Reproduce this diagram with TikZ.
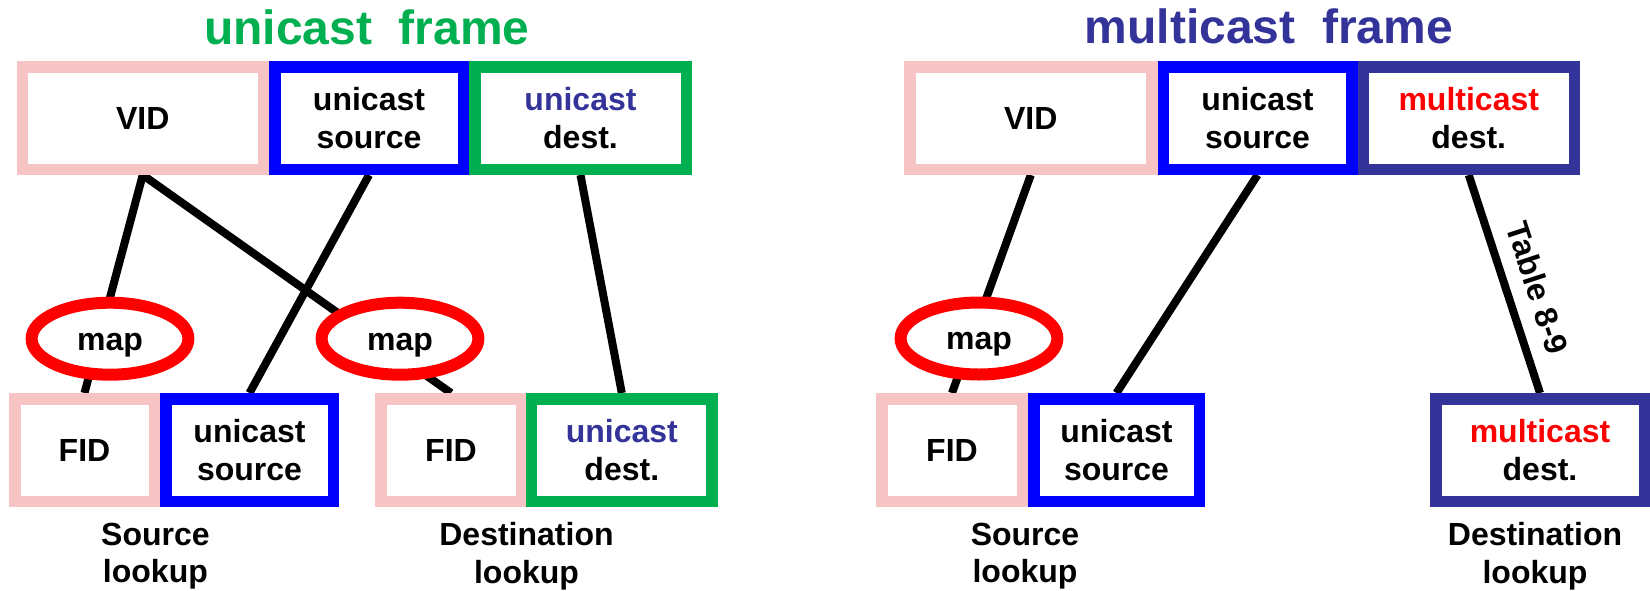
\documentclass[tikz,border=0pt]{standalone}
\usepackage{fontspec}
\setmainfont{Liberation Sans}
\usetikzlibrary{shapes.geometric,backgrounds}
\definecolor{pinkb}{RGB}{246,196,196}
\definecolor{greenb}{RGB}{0,176,80}
\definecolor{navyb}{RGB}{51,51,153}
\definecolor{blueb}{RGB}{0,0,255}
\definecolor{redb}{RGB}{255,0,0}
\begin{document}
\begin{tikzpicture}[x=0.5pt,y=-0.5pt,
  fld/.style={draw, fill=white, line width=5.75pt, inner sep=0pt, minimum height=51.25pt, align=center, font=\fontsize{16}{18.65}\selectfont\bfseries},
  mapell/.style={ellipse, draw=redb, fill=white, line width=6pt, inner sep=0pt, minimum width=78.4pt, minimum height=36pt, font=\fontsize{16}{18.65}\selectfont\bfseries, text height=11.3pt, text depth=0pt},
  lbl/.style={align=center, inner sep=0pt, font=\fontsize{16}{18.65}\selectfont\bfseries},
  ttl/.style={anchor=base, inner sep=0pt, font=\fontsize{24}{28}\selectfont\bfseries},
  conn/.style={line width=4pt, black}
]
\useasboundingbox (0,0) rectangle (1650,590);
% titles
\node[ttl, text=greenb] (t1) at (367,44) {unicast\ \ frame};
\node[ttl, text=navyb] (t2) at (1269,43) {multicast\ \ frame};
% top left row
\node[fld, draw=pinkb, minimum width=120.5pt] (VIDL) at (142.75,118) {VID};
\node[fld, draw=blueb, minimum width=94.25pt] (SRCL) at (369,118) {unicast\\source};
\node[fld, draw=greenb, minimum width=105.75pt] (DSTL) at (580.5,118) {\textcolor{navyb}{unicast}\\dest.};
% top right row
\node[fld, draw=pinkb, minimum width=121pt] (VIDR) at (1030.75,118) {VID};
\node[fld, draw=blueb, minimum width=94.25pt] (SRCR) at (1257.5,118) {unicast\\source};
\node[fld, draw=navyb, minimum width=105.5pt] (DSTR) at (1468.75,118) {\textcolor{redb}{multicast}\\dest.};
% lower left
\node[fld, draw=pinkb, minimum width=69.75pt] (FIDA) at (84.5,450) {FID};
\node[fld, draw=blueb, minimum width=83.75pt] (LSRCL) at (249.5,450) {unicast\\source};
\node[fld, draw=pinkb, minimum width=70.25pt] (FIDB) at (451,450) {FID};
\node[fld, draw=greenb, minimum width=90.1pt] (LDSTL) at (621.8,450) {\textcolor{navyb}{unicast}\\dest.};
% lower right
\node[fld, draw=pinkb, minimum width=70.25pt] (FIDR) at (952,450) {FID};
\node[fld, draw=blueb, minimum width=82.75pt] (LSRCR) at (1116.5,450) {unicast\\source};
\node[fld, draw=navyb, minimum width=104.25pt] (LDSTR) at (1540,450) {\textcolor{redb}{multicast}\\dest.};
% map ellipses
\node[mapell] (MAPA) at (110,338.7) {map};
\node[mapell] (MAPB) at (400,338.7) {map};
\node[mapell] (MAPR) at (979,338.5) {map};
% bottom labels
\node[lbl] (SLA) at (155.4,556.3) {Source\\lookup};
\node[lbl] (DLA) at (526.5,556.3) {Destination\\lookup};
\node[lbl] (SLR) at (1025,556.3) {Source\\lookup};
\node[lbl] (DLR) at (1535,556.3) {Destination\\lookup};
% connectors
\begin{scope}[on background layer]
\fill[white] (0,0) rectangle (1650,590);
\draw[conn] (VIDL.south) -- (FIDA.north);
\draw[conn] (VIDL.south) -- (FIDB.north);
\draw[conn] (SRCL.south) -- (LSRCL.north);
\draw[conn] (DSTL.south) -- (LDSTL.north);
\draw[conn] (VIDR.south) -- (FIDR.north);
\draw[conn] (SRCR.south) -- (LSRCR.north);
\draw[conn] (DSTR.south) -- node[pos=0.561, sloped, anchor=south, inner sep=0pt, outer sep=9.5pt, font=\fontsize{16}{18.65}\selectfont\bfseries] (TBL) {Table 8-9} (LDSTR.north);
\end{scope}
\end{tikzpicture}
\end{document}
